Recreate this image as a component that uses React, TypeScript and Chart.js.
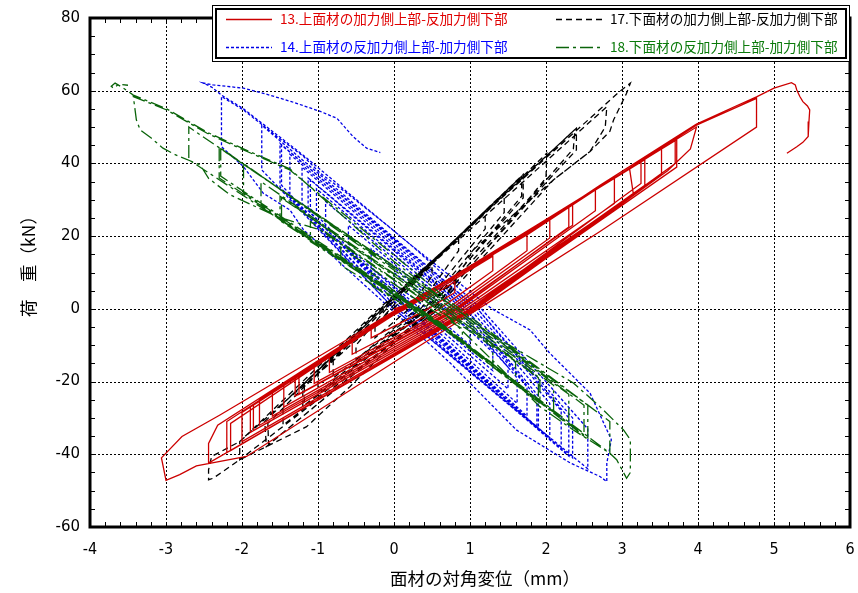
import React, { useEffect, useRef } from 'react';
import { Chart, registerables } from 'chart.js';
Chart.register(...registerables);

type P = [number, number];

const xTickValues = [-4, -3, -2, -1, 0, 1, 2, 3, 4, 5, 6];
const yTickValues = [-60, -40, -20, 0, 20, 40, 60, 80];
const xTitle = '面材の対角変位（mm）';
const yTitle = '荷　重（kN）';
const seriesNames = [
  '13.上面材の加力側上部-反加力側下部',
  '14.上面材の反加力側上部-加力側下部',
  '17.下面材の加力側上部-反加力側下部',
  '18.下面材の反加力側上部-加力側下部',
];

// 13: red, solid
const s13: P[] = [
  [0, 0], [0.45, 3], [0.8, 7.5], [0.8, 4.5], [0.45, 0], [-0.3, -8], [-0.3, -5], [0.15, 0],
  [1.3, 14.5], [1.3, 10.5], [0.6, 0], [-0.55, -12.5], [-0.55, -8.5], [0.1, 0],
  [1.75, 20.5], [1.75, 16], [0.7, 0], [-0.85, -17.5], [-0.85, -13], [0.08, 0],
  [2.05, 24.5], [2.05, 19.5], [0.75, 0], [-1.05, -20.5], [-1.05, -15.5], [0.08, 0],
  [2.35, 29], [2.35, 23], [0.8, 0], [-1.3, -24], [-1.3, -18.5], [0.08, 0],
  [2.3, 28], [2.3, 22.5], [0.82, 0], [-1.25, -23.5], [-1.25, -18], [0.1, 0],
  [2.65, 33], [2.65, 27], [0.85, 0], [-1.45, -27], [-1.45, -21], [0.08, 0],
  [2.9, 36], [2.9, 29], [0.9, 0], [-1.6, -29.5], [-1.6, -23], [0.1, 0],
  [3.1, 38.5], [3.15, 31.5], [0.95, 0], [-1.77, -32], [-1.77, -25], [0.1, 0],
  [3.3, 41], [3.3, 34], [1.0, 0], [-1.89, -34], [-1.89, -27], [0.1, 0],
  [3.25, 40.5], [3.25, 34.5], [1.0, 0], [-1.85, -33.5], [-1.85, -26.5], [0.12, 0],
  [3.52, 44], [3.52, 37], [1.02, 0], [-2.0, -36.5], [-2.0, -28.5], [0.08, 0],
  [3.72, 46.5], [3.72, 39], [1.05, 0], [-2.2, -39.5], [-2.2, -31], [0.08, 0],
  [3.7, 46.3], [3.7, 40], [1.06, 0], [-2.15, -39], [-2.15, -31.5], [0.1, 0],
  [3.98, 50], [3.9, 44], [3.6, 38], [1.08, 0], [-2.44, -42.4], [-2.44, -37], [-2.32, -32], [0.06, 0],
  [1.76, 20.5], [2.71, 33.5], [3.98, 50.5], [4.77, 57.9], [4.77, 50], [2.71, 21.3], [1.11, 0], [0.25, -11.3],
  [-1.94, -40.6], [-2.6, -43.2], [-2.82, -45.6], [-3.0, -47.2], [-3.06, -41], [-2.79, -35.1], [-2.29, -29.2],
  [-0.62, -8.5], [0.05, 0],
  [1.76, 20.8], [2.71, 34], [3.98, 50.8], [4.5, 55.8], [4.77, 58.3], [5.0, 60.7], [5.23, 62.2], [5.28, 61.6],
  [5.3, 60.2], [5.34, 58.4], [5.38, 57], [5.44, 55.8], [5.47, 54.7], [5.46, 51.5], [5.45, 47.4], [5.38, 45.8],
  [5.3, 44.6], [5.17, 42.8],
];

// 14: blue, short dashes
const s14: P[] = [
  [0.6, 0], [0.3, 5], [0.0, 10], [0.0, 7], [0.5, -1], [1.0, -10], [1.0, -6], [0.65, 0],
  [-0.3, 16.5], [-0.3, 11.5], [0.35, 0], [1.3, -17], [1.3, -12], [0.7, 0],
  [-0.6, 23], [-0.6, 17], [0.3, 0], [1.5, -22], [1.5, -16], [0.8, 0],
  [-0.9, 29.5], [-0.9, 22], [0.25, 0], [1.62, -26], [1.62, -19], [0.85, 0],
  [-1.02, 33], [-1.02, 24.5], [0.2, 0], [1.75, -29.5], [1.75, -21.5], [0.9, 0],
  [-1.13, 36], [-1.13, 27], [0.15, 0], [1.9, -33], [1.9, -24], [0.95, 0],
  [-1.1, 35.5], [-1.1, 27.5], [0.18, 0], [1.88, -32.5], [1.88, -24.5], [0.95, 0],
  [-1.21, 39], [-1.21, 29], [0.1, 0], [2.05, -35.5], [2.05, -26], [1.0, 0],
  [-1.37, 42.5], [-1.37, 31], [0.05, 0], [2.2, -38.5], [2.2, -28], [1.05, 0],
  [-1.5, 45.5], [-1.5, 33.5], [0.0, 0], [2.35, -41], [2.35, -30], [1.1, 0],
  [-1.48, 45], [-1.48, 34], [0.05, 0], [2.3, -40.5], [2.3, -30], [1.1, 0],
  [-1.74, 50.5], [-1.74, 38.2], [-1.5, 33], [0.0, 0], [2.55, -44], [2.55, -33], [1.15, 0],
  [0.25, 17.1], [-0.18, 24.5], [-0.62, 31.8], [-0.97, 37.3], [-1.19, 41.9], [-1.54, 47.4], [-1.98, 54.7],
  [-2.27, 58.4], [-2.27, 44.6], [-1.98, 39.1], [-1.72, 31.8], [-1.37, 27.2], [-1.19, 21.7], [-0.2, 3],
  [0.74, -14.9], [1.61, -33.3], [2.32, -42.4], [2.71, -46.1], [2.8, -47.5], [2.8, -42.4], [2.86, -36],
  [2.58, -23.2], [2.05, -12.2], [1.79, -5.8], [1.29, 0], [0.25, 17.1], [-0.62, 32.2], [-1.19, 42.2],
  [-1.98, 55], [-2.27, 58.8], [-2.4, 61], [-2.51, 62.1], [-2.38, 61.6], [-1.98, 60.7], [-1.72, 59.3],
  [-1.35, 57], [-0.97, 54.3], [-0.75, 52.4], [-0.54, 47.4], [-0.36, 44.2], [-0.18, 43],
];

// 17: black, dashed
const s17: P[] = [
  [0, 0], [0.25, 7], [0.5, 12], [0.5, 9], [0.2, 0], [-0.25, -8], [-0.25, -5], [-0.05, 0],
  [0.85, 20], [0.85, 16], [0.3, 0], [-0.5, -14], [-0.5, -10], [-0.1, 0],
  [1.2, 27], [1.2, 22], [0.35, 0], [-0.8, -19], [-0.8, -14], [-0.12, 0],
  [1.45, 32], [1.45, 26.5], [0.4, 0], [-1.0, -23], [-1.0, -17], [-0.15, 0],
  [1.7, 37], [1.7, 30.5], [0.42, 0], [-1.2, -27], [-1.2, -21], [-0.15, 0],
  [1.68, 36.5], [1.68, 31], [0.45, 0], [-1.18, -26.5], [-1.18, -21.5], [-0.12, 0],
  [2.01, 42.8], [2.0, 36], [1.8, 30.9], [0.45, 0], [-1.46, -32], [-1.46, -26], [-0.15, 0],
  [2.4, 49.7], [2.4, 43.7], [2.1, 37], [0.5, 0], [-1.68, -37.9], [-1.7, -31], [-0.18, 0],
  [2.38, 49.3], [2.36, 44], [0.52, 0], [-1.65, -37.3], [-1.66, -31.5], [-0.16, 0],
  [2.8, 55.6], [2.78, 50], [2.58, 43.3], [2.1, 35.5], [0.55, 0], [-2.03, -41.5], [-2.03, -36.5], [-0.2, 0],
  [2.97, 59.8], [3.11, 62.1], [3.06, 59.3], [2.89, 52], [2.84, 48.8], [2.58, 43.3], [2.1, 35.5], [1.04, 16.2],
  [0.6, 0], [0.04, -8.5], [-0.58, -21.4], [-1.15, -32.4], [-1.68, -37.9], [-2.03, -41.5], [-2.38, -46.6],
  [-2.44, -47], [-2.44, -44.3], [-2.4, -40.6], [-2.03, -36.5], [-1.46, -25.9], [-0.84, -15], [-0.3, -5], [0.1, 2],
];

// 18: green, long dash / short dash
const s18: P[] = [
  [0.3, 0], [0.0, 5], [-0.3, 10], [-0.3, 6.5], [0.3, -1], [0.9, -9], [0.9, -5.5], [0.4, 1],
  [-0.7, 17], [-0.7, 12], [0.4, -2], [1.3, -15], [1.3, -10.5], [0.5, 1],
  [-1.1, 24], [-1.1, 18.5], [0.45, -2], [1.6, -20], [1.6, -14.5], [0.55, 1],
  [-1.5, 31], [-1.5, 24.5], [0.5, -3], [1.92, -26], [1.92, -19], [0.6, 1],
  [-1.48, 30.5], [-1.48, 24], [0.5, -3], [1.9, -25.5], [1.9, -19], [0.6, 1],
  [-1.75, 35], [-1.75, 28], [0.55, -3], [2.1, -28.5], [2.1, -21], [0.65, 1],
  [-1.98, 40], [-1.98, 32], [0.6, -4], [2.3, -32], [2.3, -23.5], [0.7, 1],
  [-2.3, 44.5], [-2.3, 36], [0.6, -4], [2.55, -35.5], [2.55, -26.5], [0.75, 1],
  [-2.28, 44], [-2.28, 36.5], [0.62, -4], [2.5, -35], [2.5, -26.5], [0.76, 1],
  [-2.7, 50], [-2.7, 41], [0.65, -5], [2.84, -39.7], [2.84, -31], [0.8, 1],
  [-1.37, 38.2], [-1.98, 43.7], [-2.46, 48.3], [-2.99, 54.7], [-3.43, 58.4], [-3.39, 52], [-3.34, 49.2],
  [-3.19, 46.9], [-3.04, 44.2], [-2.88, 42.4], [-2.55, 39.6], [-2.44, 35.9], [-2.16, 31.4], [-1.54, 25.4],
  [-0.97, 21.7], [0.7, -2], [1.92, -26.9], [2.36, -33.3], [2.84, -39.7], [2.93, -41.5], [3.06, -46.6],
  [3.11, -45], [3.11, -36], [3.02, -33.3], [2.71, -26.9], [2.36, -20.4], [1.18, -5.8], [0.0, 13],
  [-1.37, 38.5], [-1.98, 44], [-2.46, 48.6], [-2.99, 55], [-3.43, 58.8], [-3.56, 60.7], [-3.67, 62.1],
  [-3.72, 61.2], [-3.69, 60.7], [-3.62, 61.8], [-3.5, 61.5],
];

const RED = '#cc0000';
const BLUE = '#0000e6';
const BLACK = '#000000';
const GREEN = '#0a640a';
const CJK = '"Noto Sans CJK JP", "Noto Sans", sans-serif';

const styles = [
  { data: s13, color: RED, text: '#e00000', dash: [] as number[], order: 1 },
  { data: s14, color: BLUE, text: '#0000ff', dash: [3, 2], order: 3 },
  { data: s17, color: BLACK, text: '#000000', dash: [6, 4], order: 2 },
  { data: s18, color: GREEN, text: '#0a7a0a', dash: [13, 4, 3, 4], order: 0 },
];

const decorPlugin = {
  id: 'decor',
  beforeDatasetsDraw(chart: any) {
    const { ctx, chartArea: a, scales } = chart;
    const xs = scales.x, ys = scales.y;
    ctx.save();
    ctx.strokeStyle = '#000';
    ctx.lineWidth = 1;
    ctx.setLineDash([2, 2]);
    xTickValues.slice(1, -1).forEach((v) => {
      const px = Math.round(xs.getPixelForValue(v)) + 0.5;
      ctx.beginPath(); ctx.moveTo(px, a.top); ctx.lineTo(px, a.bottom); ctx.stroke();
    });
    yTickValues.slice(1, -1).forEach((v) => {
      const py = Math.round(ys.getPixelForValue(v)) + 0.5;
      ctx.beginPath(); ctx.moveTo(a.left, py); ctx.lineTo(a.right, py); ctx.stroke();
    });
    ctx.restore();
  },
  afterDatasetsDraw(chart: any) {
    const { ctx, chartArea: a, scales } = chart;
    const xs = scales.x, ys = scales.y;
    ctx.save();
    ctx.strokeStyle = '#000';
    ctx.setLineDash([]);
    ctx.lineWidth = 1;
    for (let i = 0; i <= 50; i++) {
      const v = -4 + i * 0.2;
      const px = Math.round(xs.getPixelForValue(v)) + 0.5;
      ctx.beginPath(); ctx.moveTo(px, a.bottom); ctx.lineTo(px, a.bottom - 5); ctx.stroke();
      ctx.beginPath(); ctx.moveTo(px, a.top); ctx.lineTo(px, a.top + 5); ctx.stroke();
    }
    for (let i = 0; i <= 28; i++) {
      const v = -60 + i * 5;
      const py = Math.round(ys.getPixelForValue(v)) + 0.5;
      ctx.beginPath(); ctx.moveTo(a.left, py); ctx.lineTo(a.left + 5, py); ctx.stroke();
      ctx.beginPath(); ctx.moveTo(a.right, py); ctx.lineTo(a.right - 5, py); ctx.stroke();
    }
    ctx.lineWidth = 3;
    ctx.strokeRect(a.left, a.top, a.right - a.left, a.bottom - a.top);
    ctx.restore();
  },
  afterDraw(chart: any) {
    const { ctx } = chart;
    ctx.save();
    ctx.fillStyle = '#000';
    ctx.font = `17.5px ${CJK}`;
    ctx.textAlign = 'center';
    ctx.textBaseline = 'middle';
    ctx.fillText(xTitle, 485, 578);
    ctx.translate(28, 262);
    ctx.rotate(-Math.PI / 2);
    ctx.fillText(yTitle, 0, 0);
    ctx.restore();

    ctx.save();
    const L = 212, T = 5, R = 850, B = 62;
    ctx.fillStyle = '#fff';
    ctx.fillRect(L, T, R - L, B - T);
    ctx.strokeStyle = '#000';
    ctx.lineWidth = 1;
    ctx.strokeRect(L + 0.5, T + 0.5, R - L - 1, B - T - 1);
    ctx.lineWidth = 2;
    ctx.strokeRect(L + 4, T + 4, R - L - 8, B - T - 8);
    const slots = [
      { s: 0, x: 226, y: 19 },
      { s: 2, x: 556, y: 19 },
      { s: 1, x: 226, y: 47 },
      { s: 3, x: 556, y: 47 },
    ];
    ctx.font = `13.6px ${CJK}`;
    ctx.textAlign = 'left';
    ctx.textBaseline = 'middle';
    slots.forEach(({ s, x, y }) => {
      const st = styles[s];
      ctx.strokeStyle = st.color;
      ctx.lineWidth = 1.3;
      ctx.setLineDash(st.dash);
      ctx.beginPath(); ctx.moveTo(x, y + 0.5); ctx.lineTo(x + 46, y + 0.5); ctx.stroke();
      ctx.setLineDash([]);
      ctx.fillStyle = st.text;
      ctx.fillText(seriesNames[s], x + 54, y);
    });
    ctx.restore();
  },
};

export default function App() {
  const ref = useRef<HTMLCanvasElement>(null);
  useEffect(() => {
    const canvas = ref.current;
    if (!canvas) return;
    const chart = new Chart(canvas, {
      type: 'scatter',
      data: {
        datasets: styles.map((st, i) => ({
          label: seriesNames[i],
          data: st.data.map(([x, y]) => ({ x, y })),
          showLine: true,
          borderColor: st.color,
          backgroundColor: st.color,
          borderWidth: 1.3,
          borderDash: st.dash,
          pointRadius: 0,
          pointHoverRadius: 0,
          tension: 0,
          fill: false,
          order: st.order,
        })),
      },
      options: {
        animation: false,
        responsive: false,
        events: [],
        layout: { padding: { left: 0, right: 8, top: 18, bottom: 0 } },
        plugins: { legend: { display: false }, tooltip: { enabled: false } },
        scales: {
          x: {
            type: 'linear',
            min: -4,
            max: 6,
            afterBuildTicks: (s: any) => { s.ticks = xTickValues.map((v) => ({ value: v })); },
            afterFit: (s: any) => { s.height = 66; s.paddingLeft = 0; s.paddingRight = 0; },
            grid: { display: false, drawTicks: false },
            border: { display: false },
            ticks: { padding: 13, color: '#000', font: { family: '"DejaVu Sans Condensed", "DejaVu Sans", sans-serif', size: 16 }, maxRotation: 0 },
          },
          y: {
            type: 'linear',
            min: -60,
            max: 80,
            afterBuildTicks: (s: any) => { s.ticks = yTickValues.map((v) => ({ value: v })); },
            afterFit: (s: any) => { s.width = 90; s.paddingTop = 0; s.paddingBottom = 0; },
            grid: { display: false, drawTicks: false },
            border: { display: false },
            ticks: { padding: 10, color: '#000', font: { family: '"DejaVu Sans", sans-serif', size: 15 } },
          },
        },
      },
      plugins: [decorPlugin],
    });
    return () => chart.destroy();
  }, []);
  return (
    <div style={{ position: 'fixed', left: 0, top: 0, width: 858, height: 593, background: '#fff' }}>
      <canvas ref={ref} width={858} height={593} style={{ width: 858, height: 593, display: 'block' }} />
    </div>
  );
}
